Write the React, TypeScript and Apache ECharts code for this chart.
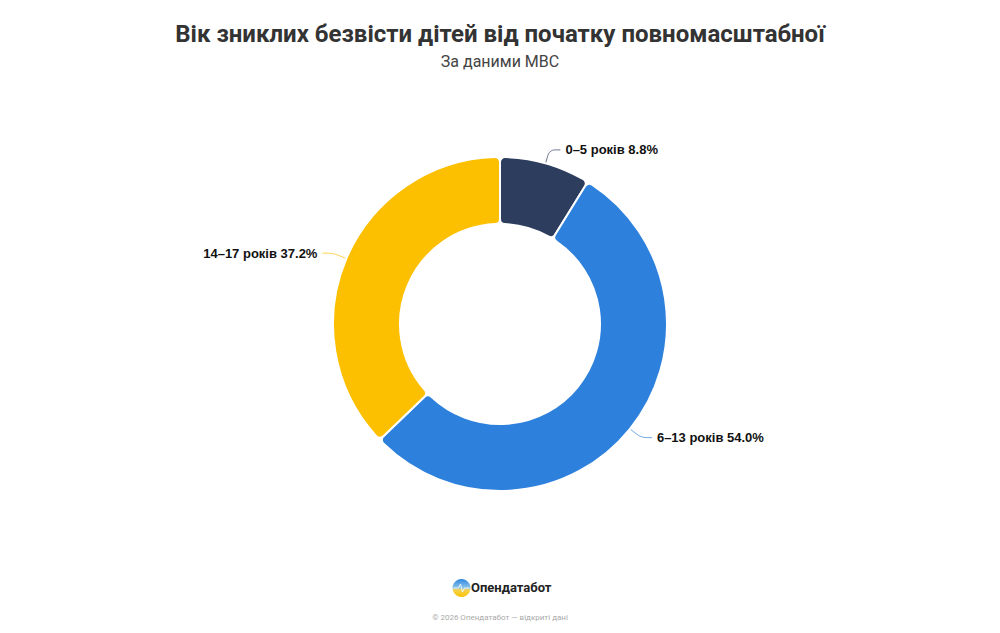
import { useEffect, useRef } from 'react'
import * as echarts from 'echarts'

const categories = ['0–5 років', '6–13 років', '14–17 років']
const shares = [8.8, 54.0, 37.2]
const sliceColors = ['#2d3d5e', '#2d80dc', '#fcc000']

const titleText = 'Вік зниклих безвісти дітей від початку повномасштабної'
const subtitleText = 'За даними МВС'
const brandText = 'Опендатабот'
const footerText = '© 2026 Опендатабот — відкриті дані'

export default function App() {
  const chartRef = useRef<HTMLDivElement>(null)

  useEffect(() => {
    const host = chartRef.current
    if (!host) return
    const chart = echarts.init(host, null, { renderer: 'svg' })

    const option: echarts.EChartsOption = {
      animation: false,
      backgroundColor: '#ffffff',
      title: {
        text: titleText,
        subtext: subtitleText,
        left: 'center',
        top: 17,
        itemGap: 7,
        textStyle: {
          fontFamily: 'Roboto',
          fontSize: 24,
          fontWeight: 'bold',
          color: '#333333'
        },
        subtextStyle: {
          fontFamily: 'Roboto',
          fontSize: 16,
          color: '#444444'
        }
      },
      series: [
        {
          type: 'pie',
          radius: [100, 167],
          center: [500, 324],
          startAngle: 90,
          clockwise: true,
          avoidLabelOverlap: true,
          itemStyle: {
            borderColor: '#ffffff',
            borderWidth: 2,
            borderRadius: 5
          },
          label: {
            show: true,
            position: 'outside',
            fontFamily: 'Liberation Sans',
            fontSize: 13,
            fontWeight: 'bold',
            color: '#111111',
            formatter: (p: any) => `${p.name} ${Number(p.value).toFixed(1)}%`
          },
          labelLine: {
            show: true,
            length: 14,
            length2: 11,
            smooth: 0.3,
            lineStyle: { width: 1, opacity: 0.7 }
          },
          data: categories.map((name, i) => ({
            name,
            value: shares[i],
            itemStyle: { color: sliceColors[i] }
          }))
        }
      ],
      graphic: [
        {
          type: 'group',
          left: 451,
          top: 579,
          children: [
            {
              type: 'circle',
              shape: { cx: 9, cy: 9, r: 9 },
              style: {
                fill: new echarts.graphic.LinearGradient(0, 0, 0, 1, [
                  { offset: 0, color: '#2f86e0' },
                  { offset: 0.5, color: '#8cc6e8' },
                  { offset: 0.6, color: '#f6d250' },
                  { offset: 1, color: '#f8c400' }
                ])
              }
            },
            {
              type: 'polyline',
              shape: {
                points: [[1, 9], [6, 9], [8, 5], [10, 13], [12, 9], [17, 9]]
              },
              style: { stroke: '#e8f4fb', lineWidth: 1, fill: 'none' }
            }
          ]
        },
        {
          type: 'text',
          left: 471,
          top: 581,
          style: {
            text: brandText,
            fontFamily: 'Roboto',
            fontSize: 13,
            fontWeight: 'bold',
            fill: '#222222'
          }
        },
        {
          type: 'text',
          left: 'center',
          top: 613,
          style: {
            text: footerText,
            fontFamily: 'Roboto',
            fontSize: 8,
            fill: '#aaaaaa'
          }
        }
      ]
    }

    chart.setOption(option)
    return () => {
      chart.dispose()
    }
  }, [])

  return (
    <div
      ref={chartRef}
      style={{ position: 'fixed', left: 0, top: 0, width: 1000, height: 633 }}
    />
  )
}
